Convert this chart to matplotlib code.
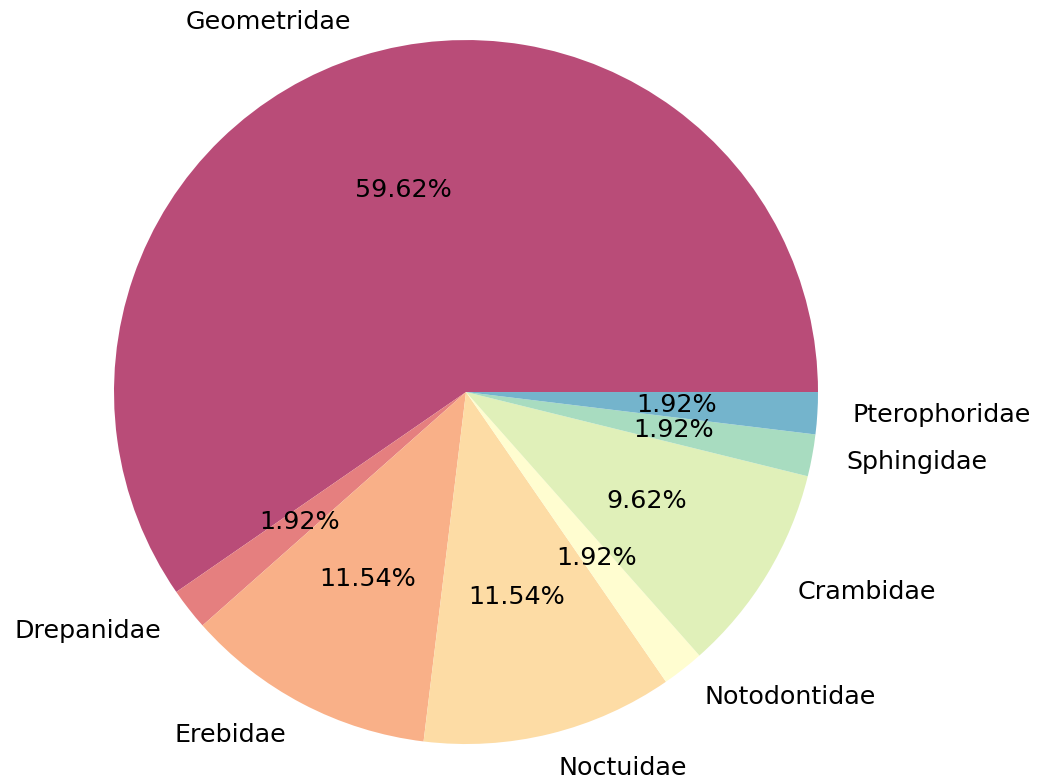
import matplotlib
matplotlib.use("Agg")
import matplotlib.pyplot as plt

# moth family counts (52 specimens in total)
families = ["Geometridae", "Drepanidae", "Erebidae", "Noctuidae",
            "Notodontidae", "Crambidae", "Sphingidae", "Pterophoridae"]
counts = [31, 1, 6, 6, 1, 5, 1, 1]
colors = ["#b94c78", "#e57f7f", "#f9b088", "#fddca5",
          "#fffdd0", "#e0f0b9", "#a8dcc0", "#74b4cc"]

fig = plt.figure(figsize=(10.41, 7.8), dpi=100)
ax = fig.add_axes([0.0757, 0.001, 0.7439, 0.9928])

ax.pie(counts, labels=families, colors=colors, autopct="%1.2f%%",
       startangle=0, textprops={"fontsize": 18.3})
ax.set_xlim(-1.1, 1.1)
ax.set_ylim(-1.1, 1.1)
ax.set_aspect("equal")
ax.axis("off")
for t in ax.texts:
    t.set_clip_on(False)

fig.savefig("out.png", dpi=100)
